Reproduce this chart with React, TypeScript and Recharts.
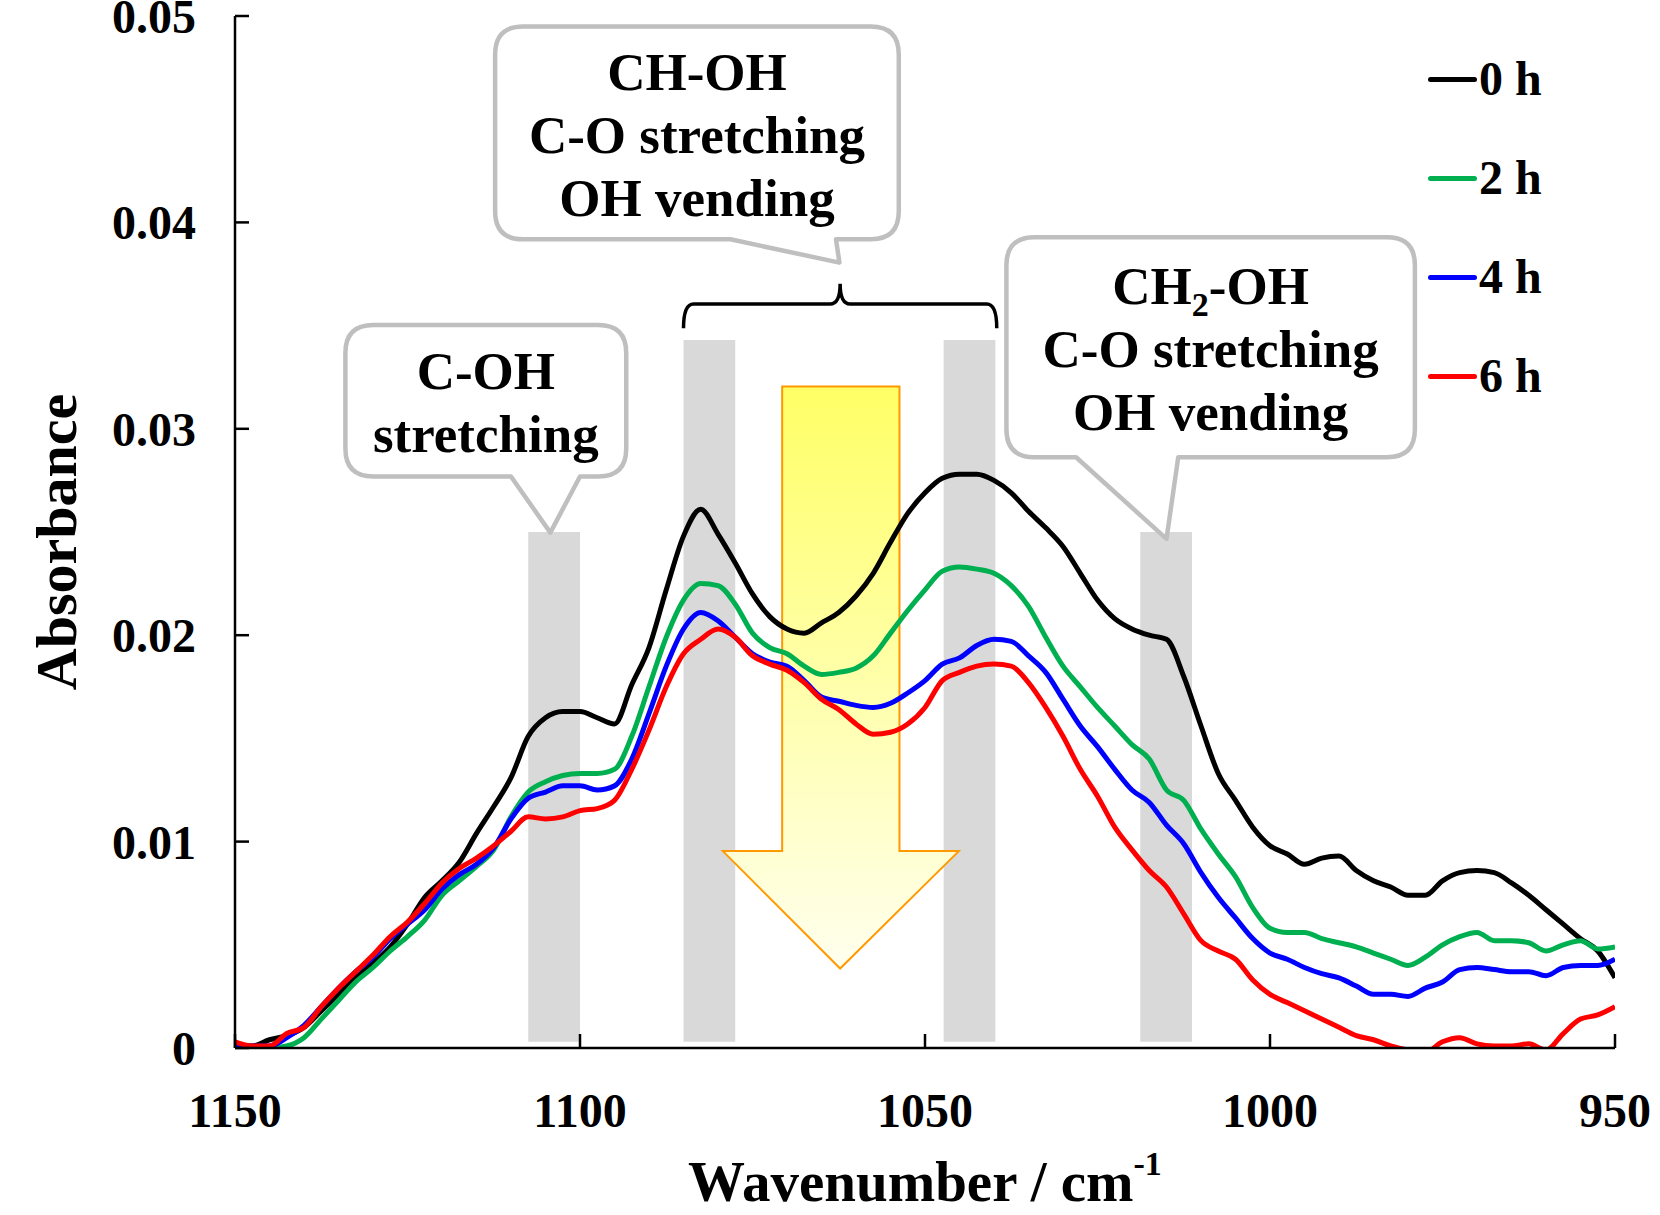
import React from 'react';
import { LineChart, Line, XAxis, YAxis, ReferenceArea, Legend, Customized } from 'recharts';

const FONT = "'Times New Roman', 'Liberation Serif', serif";

// wavenumber (cm-1), read every 2.5 cm-1
const wavenumbers = [
  1150, 1147.5, 1145, 1142.5, 1140, 1137.5, 1135, 1132.5, 1130, 1127.5,
  1125, 1122.5, 1120, 1117.5, 1115, 1112.5, 1110, 1107.5, 1105, 1102.5,
  1100, 1097.5, 1095, 1092.5, 1090, 1087.5, 1085, 1082.5, 1080, 1077.5,
  1075, 1072.5, 1070, 1067.5, 1065, 1062.5, 1060, 1057.5, 1055, 1052.5,
  1050, 1047.5, 1045, 1042.5, 1040, 1037.5, 1035, 1032.5, 1030, 1027.5,
  1025, 1022.5, 1020, 1017.5, 1015, 1012.5, 1010, 1007.5, 1005, 1002.5,
  1000, 997.5, 995, 992.5, 990, 987.5, 985, 982.5, 980, 977.5,
  975, 972.5, 970, 967.5, 965, 962.5, 960, 957.5, 955, 952.5,
  950,
];

const absorbance0h = [
  0.0002, 0.0001, 0.0004, 0.0006, 0.0010, 0.0018, 0.0026, 0.0034, 0.0041, 0.0049,
  0.0060, 0.0073, 0.0081, 0.0090, 0.0104, 0.0117, 0.0131, 0.0151, 0.0160, 0.0163,
  0.0163, 0.0160, 0.0157, 0.0176, 0.0194, 0.0222, 0.0248, 0.0261, 0.0249, 0.0235,
  0.0220, 0.0209, 0.0203, 0.0201, 0.0206, 0.0211, 0.0219, 0.0230, 0.0245, 0.0259,
  0.0269, 0.0276, 0.0278, 0.0278, 0.0275, 0.0269, 0.0260, 0.0252, 0.0243, 0.0230,
  0.0217, 0.0208, 0.0203, 0.0200, 0.0198, 0.0180, 0.0156, 0.0133, 0.0120, 0.0107,
  0.0098, 0.0094, 0.0089, 0.0092, 0.0093, 0.0086, 0.0081, 0.0078, 0.0074, 0.0074,
  0.0081, 0.0085, 0.0086, 0.0085, 0.0080, 0.0074, 0.0067, 0.0060, 0.0053, 0.0047,
  0.0034,
];

const absorbance2h = [
  0, 0, 0, 0.0001, 0.0005, 0.0014, 0.0023, 0.0032, 0.0039, 0.0047,
  0.0054, 0.0062, 0.0074, 0.0081, 0.0088, 0.0096, 0.0112, 0.0124, 0.0129, 0.0132,
  0.0133, 0.0133, 0.0135, 0.0151, 0.0175, 0.0199, 0.0217, 0.0225, 0.0224, 0.0215,
  0.0201, 0.0194, 0.0191, 0.0185, 0.0181, 0.0182, 0.0184, 0.0190, 0.0201, 0.0212,
  0.0222, 0.0231, 0.0233, 0.0232, 0.0230, 0.0224, 0.0214, 0.0199, 0.0185, 0.0175,
  0.0165, 0.0156, 0.0147, 0.0140, 0.0125, 0.0120, 0.0106, 0.0094, 0.0083, 0.0068,
  0.0058, 0.0056, 0.0056, 0.0053, 0.0051, 0.0049, 0.0046, 0.0043, 0.0040, 0.0044,
  0.0050, 0.0054, 0.0056, 0.0052, 0.0052, 0.0051, 0.0047, 0.0050, 0.0052, 0.0048,
  0.0049,
];

const absorbance4h = [
  0.0001, 0.0001, 0.0001, 0.0005, 0.0011, 0.0020, 0.0029, 0.0037, 0.0044, 0.0053,
  0.0060, 0.0067, 0.0077, 0.0084, 0.0089, 0.0097, 0.0111, 0.0121, 0.0124, 0.0127,
  0.0127, 0.0125, 0.0127, 0.0140, 0.0162, 0.0185, 0.0203, 0.0211, 0.0207, 0.0199,
  0.0191, 0.0187, 0.0185, 0.0178, 0.0170, 0.0168, 0.0166, 0.0165, 0.0167, 0.0172,
  0.0178, 0.0186, 0.0189, 0.0195, 0.0198, 0.0197, 0.0190, 0.0182, 0.0169, 0.0156,
  0.0146, 0.0135, 0.0125, 0.0119, 0.0108, 0.0099, 0.0085, 0.0073, 0.0063, 0.0053,
  0.0046, 0.0043, 0.0039, 0.0036, 0.0034, 0.0030, 0.0026, 0.0026, 0.0025, 0.0029,
  0.0032, 0.0038, 0.0039, 0.0038, 0.0037, 0.0037, 0.0035, 0.0039, 0.0040, 0.0040,
  0.0043,
];

const absorbance6h = [
  0.0003, 0.0001, 0.0001, 0.0007, 0.0010, 0.0020, 0.0029, 0.0037, 0.0045, 0.0054,
  0.0061, 0.0070, 0.0080, 0.0087, 0.0092, 0.0098, 0.0105, 0.0112, 0.0111, 0.0112,
  0.0115, 0.0116, 0.0120, 0.0135, 0.0154, 0.0175, 0.0191, 0.0198, 0.0203, 0.0199,
  0.0190, 0.0186, 0.0183, 0.0177, 0.0169, 0.0164, 0.0157, 0.0152, 0.0153, 0.0157,
  0.0165, 0.0178, 0.0182, 0.0185, 0.0186, 0.0185, 0.0177, 0.0165, 0.0151, 0.0135,
  0.0122, 0.0107, 0.0096, 0.0086, 0.0078, 0.0065, 0.0052, 0.0047, 0.0043, 0.0033,
  0.0026, 0.0022, 0.0018, 0.0014, 0.0010, 0.0006, 0.0004, 0.0001, -0.0001, -0.0002,
  0.0003, 0.0005, 0.0002, 0.0001, 0.0001, 0.0002, -0.0001, 0.0007, 0.0014, 0.0016,
  0.0020,
];

const seriesKeys = ['h0', 'h2', 'h4', 'h6'];
const seriesNames = ['0 h', '2 h', '4 h', '6 h'];
const seriesColors = ['#000000', '#00b050', '#0000ff', '#ff0000'];

const xTicks = [1150, 1100, 1050, 1000, 950];
const yTicks = [0, 0.01, 0.02, 0.03, 0.04, 0.05];

// grey marker bands: [from, to, top]
const bands = [
  [1107.5, 1100, 0.025],
  [1085, 1077.5, 0.0343],
  [1047.3, 1039.8, 0.0343],
  [1018.8, 1011.3, 0.025],
];
const bandBottom = 0.0003;

type Seg = { t: string; sub?: boolean };
type Callout = {
  left: number; right: number; top: number; bottom: number;
  tailFrom: number; tailTo: number; tipX: number; tipY: number;
  lines: Seg[][];
};

const callouts: Callout[] = [
  {
    left: 1134, right: 1093.3, top: 0.03503, bottom: 0.02769,
    tailFrom: 1110, tailTo: 1100, tipX: 1104.3, tipY: 0.02497,
    lines: [[{ t: 'C-OH' }], [{ t: 'stretching' }]],
  },
  {
    left: 1112.3, right: 1053.8, top: 0.04949, bottom: 0.03918,
    tailFrom: 1078.2, tailTo: 1062.9, tipX: 1062.4, tipY: 0.03805,
    lines: [[{ t: 'CH-OH' }], [{ t: 'C-O stretching' }], [{ t: 'OH vending' }]],
  },
  {
    left: 1038.2, right: 979, top: 0.03928, bottom: 0.02862,
    tailFrom: 1028.1, tailTo: 1013.3, tipX: 1015, tipY: 0.02467,
    lines: [[{ t: 'CH' }, { t: '2', sub: true }, { t: '-OH' }], [{ t: 'C-O stretching' }], [{ t: 'OH vending' }]],
  },
];

// down arrow: shaft and head in data units
const arrow = { shaftL: 1070.7, shaftR: 1053.7, shaftTop: 0.03205, headL: 1079.3, headR: 1045.1, headY: 0.00954, tipX: 1062.3, tipY: 0.00385 };
// bracket over the CH-OH bands
const bracket = { left: 1085, right: 1039.6, ends: 0.03487, line: 0.03605, notchX: 1062.3, notch: 0.03703 };

const data = wavenumbers.map((w, i) => ({
  w,
  h0: absorbance0h[i],
  h2: absorbance2h[i],
  h4: absorbance4h[i],
  h6: absorbance6h[i],
}));

const mapper = (p: any, left: number, right: number, top: number, bottom: number) => ({
  sx: (w: number) => p.x + ((left - w) / (left - right)) * p.width,
  sy: (v: number) => p.y + ((top - v) / (top - bottom)) * p.height,
});

const calloutShape = (c: Callout) => (p: any) => {
  const { sx, sy } = mapper(p, c.left, c.right, c.top, c.bottom);
  const x0 = p.x, x1 = p.x + p.width, y0 = p.y, y1 = p.y + p.height;
  const r = 28;
  const ta = sx(c.tailFrom), tb = sx(c.tailTo), tx = sx(c.tipX), ty = sy(c.tipY);
  const d = `M${x0 + r},${y0} H${x1 - r} Q${x1},${y0} ${x1},${y0 + r} V${y1 - r} Q${x1},${y1} ${x1 - r},${y1} H${tb} L${tx},${ty} L${ta},${y1} H${x0 + r} Q${x0},${y1} ${x0},${y1 - r} V${y0 + r} Q${x0},${y0} ${x0 + r},${y0} Z`;
  const cx = (x0 + x1) / 2, cy = (y0 + y1) / 2;
  const n = c.lines.length;
  return (
    <g>
      <path d={d} fill="#fff" stroke="#bfbfbf" strokeWidth={4.5} strokeLinejoin="round" />
      {c.lines.map((line, i) => (
        <text key={i} x={cx} y={cy + (i - (n - 1) / 2) * 63 + 20} textAnchor="middle"
          fontFamily={FONT} fontWeight="bold" fontSize={53} fill="#000">
          {line.map((s, j) => {
            const prevSub = j > 0 && line[j - 1].sub;
            if (s.sub) return <tspan key={j} fontSize={34} dy={12}>{s.t}</tspan>;
            return <tspan key={j} dy={prevSub ? -12 : 0}>{s.t}</tspan>;
          })}
        </text>
      ))}
    </g>
  );
};

const arrowShape = (p: any) => {
  const { sx, sy } = mapper(p, arrow.headL, arrow.headR, arrow.shaftTop, arrow.tipY);
  const pts = [
    [sx(arrow.shaftL), sy(arrow.shaftTop)],
    [sx(arrow.shaftR), sy(arrow.shaftTop)],
    [sx(arrow.shaftR), sy(arrow.headY)],
    [sx(arrow.headR), sy(arrow.headY)],
    [sx(arrow.tipX), sy(arrow.tipY)],
    [sx(arrow.headL), sy(arrow.headY)],
    [sx(arrow.shaftL), sy(arrow.headY)],
  ];
  return (
    <g>
      <defs>
        <linearGradient id="arrowFill" x1="0" y1="0" x2="0" y2="1">
          <stop offset="0" stopColor="#ffff66" />
          <stop offset="0.55" stopColor="#ffffb0" />
          <stop offset="1" stopColor="#ffffee" />
        </linearGradient>
      </defs>
      <polygon points={pts.map((q) => q.join(',')).join(' ')} fill="url(#arrowFill)" stroke="#ff9900" strokeWidth={2} />
    </g>
  );
};

const bracketShape = (p: any) => {
  const { sx, sy } = mapper(p, bracket.left, bracket.right, bracket.notch, bracket.ends);
  const xl = sx(bracket.left), xr = sx(bracket.right), xc = sx(bracket.notchX);
  const yl = sy(bracket.line), ye = sy(bracket.ends), yn = sy(bracket.notch);
  const d = `M${xl},${ye} Q${xl},${yl} ${xl + 10},${yl} H${xc - 10} Q${xc},${yl} ${xc},${yn} Q${xc},${yl} ${xc + 10},${yl} H${xr - 10} Q${xr},${yl} ${xr},${ye}`;
  return <path d={d} fill="none" stroke="#000" strokeWidth={3.5} />;
};

const AxisTitles = () => (
  <g fontFamily={FONT} fontWeight="bold" fill="#000">
    <text x={925} y={1201} textAnchor="middle" fontSize={57}>
      Wavenumber / cm<tspan fontSize={34} dy={-26}>-1</tspan>
    </text>
    <text transform="translate(76,542) rotate(-90)" textAnchor="middle" fontSize={58}>Absorbance</text>
  </g>
);

const renderLegend = (props: any) => (
  <div style={{ display: 'flex', flexDirection: 'column' }}>
    {(props.payload ?? []).map((e: any) => (
      <div key={e.value} style={{ height: 99, display: 'flex', alignItems: 'center' }}>
        <span style={{ width: 49, height: 5, background: e.color, borderRadius: 3, marginRight: 2 }} />
        <span style={{ fontFamily: FONT, fontWeight: 'bold', fontSize: 48, color: '#000', lineHeight: 1 }}>{e.value}</span>
      </div>
    ))}
  </div>
);

const tickStyle = { fill: '#000', fontSize: 48, fontWeight: 'bold', fontFamily: FONT };
const axisStroke = { stroke: '#000', strokeWidth: 2.5 };

export default function App() {
  return (
    <div style={{ position: 'absolute', left: 0, top: 0, background: '#fff' }}>
      <LineChart width={1660} height={1215} data={data} margin={{ top: 16, right: 45, bottom: 67, left: 0 }}>
        <XAxis dataKey="w" type="number" domain={[950, 1150]} reversed ticks={xTicks} interval={0}
          allowDataOverflow height={100} tickSize={-14} tickMargin={59} tick={tickStyle}
          axisLine={axisStroke} tickLine={axisStroke} />
        <XAxis xAxisId="top" orientation="top" type="number" domain={[950, 1150]} reversed
          height={0} tick={false} tickLine={false} axisLine={axisStroke} />
        <YAxis type="number" domain={[0, 0.05]} ticks={yTicks} interval={0} allowDataOverflow width={235}
          tickSize={-14} tickMargin={53} tick={tickStyle} axisLine={axisStroke} tickLine={axisStroke}
          tickFormatter={(v: number) => (v === 0 ? '0' : v.toFixed(2))} />
        <YAxis yAxisId="right" orientation="right" type="number" domain={[0, 0.05]}
          width={0} tick={false} tickLine={false} axisLine={axisStroke} />

        {bands.map(([a, b, top], i) => (
          <ReferenceArea key={`band${i}`} x1={a} x2={b} y1={bandBottom} y2={top}
            fill="#d9d9d9" fillOpacity={1} stroke="none" />
        ))}
        <ReferenceArea x1={arrow.headL} x2={arrow.headR} y1={arrow.tipY} y2={arrow.shaftTop} shape={arrowShape} />

        {seriesKeys.map((k, i) => (
          <Line key={k} dataKey={k} name={seriesNames[i]} type="monotone" stroke={seriesColors[i]}
            strokeWidth={5} strokeLinejoin="round" dot={false} activeDot={false} isAnimationActive={false} />
        ))}

        {callouts.map((c, i) => (
          <ReferenceArea key={`callout${i}`} x1={c.left} x2={c.right} y1={c.bottom} y2={c.top} shape={calloutShape(c)} />
        ))}
        <ReferenceArea x1={bracket.left} x2={bracket.right} y1={bracket.ends} y2={bracket.notch} shape={bracketShape} />

        <Legend content={renderLegend} layout="horizontal" verticalAlign="middle" align="center"
          wrapperStyle={{ left: 1428, top: 29.5, width: 200 }} />
        <Customized component={AxisTitles} />
      </LineChart>
    </div>
  );
}
